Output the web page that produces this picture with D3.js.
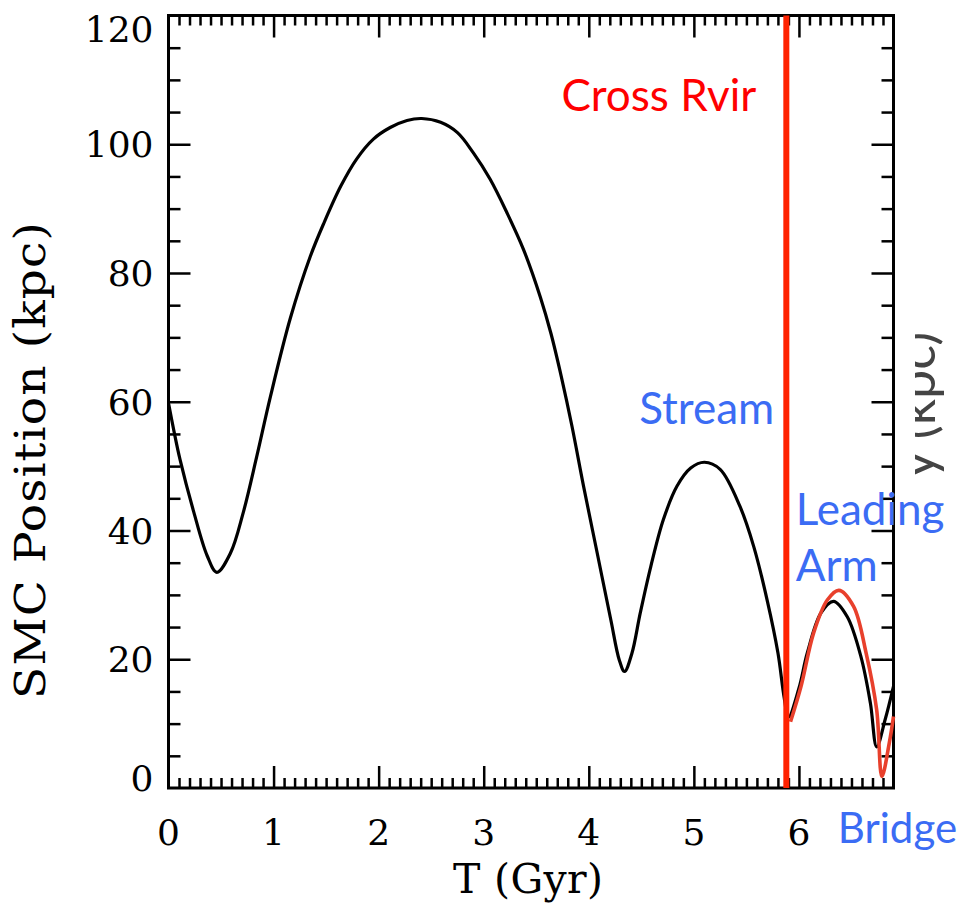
<!DOCTYPE html>
<html>
<head>
<meta charset="utf-8">
<script src="https://cdn.jsdelivr.net/npm/d3@7"></script>
<style>
  body { margin: 0; background: #fff; }
  svg { display: block; }
</style>
</head>
<body>
<div id="chart"></div>
<script>
// SMC orbit: distance vs time
var blackT = [0.00, 0.05, 0.11, 0.24, 0.37, 0.46, 0.59, 0.71, 0.84, 0.97, 1.16, 1.35, 1.48, 1.64, 1.79, 1.95,
              2.11, 2.27, 2.41, 2.59, 2.75, 2.90, 3.06, 3.22, 3.38, 3.54, 3.64, 3.74, 3.84, 3.95, 4.08,
              4.21, 4.29, 4.34, 4.41, 4.49, 4.59, 4.71, 4.84, 4.97, 5.10, 5.25, 5.44, 5.57, 5.70, 5.80,
              5.86, 5.90, 6.00, 6.08, 6.21, 6.33, 6.46, 6.59, 6.68, 6.74, 6.82, 6.90];
var blackR = [59.8, 55.6, 51.0, 42.9, 36.0, 33.5, 36.5, 42.7, 51.5, 60.8, 73.0, 82.6, 87.8, 93.5, 97.7, 100.8,
              102.6, 103.7, 104.0, 103.4, 101.8, 98.7, 94.6, 89.4, 83.6, 76.2, 70.6, 63.8, 56.2, 46.9, 36.5,
              26.1, 19.9, 18.1, 20.9, 27.2, 34.4, 41.7, 46.9, 49.7, 50.6, 49.5, 43.7, 37.5, 29.0, 21.0,
              14.0, 11.0, 15.5, 21.0, 27.2, 29.0, 26.6, 20.4, 13.2, 6.4, 10.6, 15.8];

var redT = [5.92, 6.02, 6.14, 6.27, 6.38, 6.52, 6.64, 6.74, 6.79, 6.86, 6.90];
var redR = [10.3, 15.8, 24.1, 29.2, 30.7, 28.2, 20.9, 12.1, 1.8, 7.0, 11.1];

var crossT = 5.88;

var xTicks = [0, 1, 2, 3, 4, 5, 6];
var yTicks = [0, 20, 40, 60, 80, 100, 120];

var labels = [
    { text: "Cross Rvir", t: 3.74, r: 105.2, color: "red" },
    { text: "Stream", t: 4.48, r: 56.6, color: "blue" },
    { text: "Leading", t: 5.97, r: 40.8, color: "blue" },
    { text: "Arm", t: 5.97, r: 32.2, color: "blue" },
    { text: "Bridge", t: 6.37, r: -8.6, color: "blue" }
];

var svgWidth = 962;
var svgHeight = 903;
var margin = { top: 15.5, left: 168.5, right: 68.5, bottom: 115 };
var width = svgWidth - margin.left - margin.right;
var height = svgHeight - margin.top - margin.bottom;

var svg = d3.select("#chart").append("svg")
    .attr("width", svgWidth)
    .attr("height", svgHeight);

var g = svg.append("g")
    .attr("transform", `translate(${margin.left}, ${margin.top})`);

var x = d3.scaleLinear().domain([0, 6.9]).range([0, width]);
var y = d3.scaleLinear().domain([0, 120]).range([height, 0]);

var serif = "'DejaVu Serif', serif";
var sans = "Lato, 'Open Sans', sans-serif";

// ticks (minor + major) on all four sides
var xMinor = d3.range(1, 69).map(d => d / 10).filter(d => Math.abs(d - Math.round(d)) > 1e-6);
var yMinor = d3.range(5, 120, 5).filter(d => d % 20 != 0);

function drawAxis(axis, scale, ticks, len, sel) {
    sel.call(axis(scale).tickValues(ticks).tickSize(len).tickFormat(""))
        .call(s => s.select(".domain").remove())
        .selectAll("line").attr("stroke", "#000").attr("stroke-width", 2.5);
}

var xMaj = xTicks.filter(d => d > 0);
var yMaj = yTicks.filter(d => d > 0 && d < 120);

drawAxis(d3.axisTop, x, xMinor, 10, g.append("g").attr("transform", `translate(0,${height})`));
drawAxis(d3.axisTop, x, xMaj, 22, g.append("g").attr("transform", `translate(0,${height})`));
drawAxis(d3.axisBottom, x, xMinor, 10, g.append("g"));
drawAxis(d3.axisBottom, x, xMaj, 22, g.append("g"));
drawAxis(d3.axisRight, y, yMinor, 12, g.append("g"));
drawAxis(d3.axisRight, y, yMaj, 22, g.append("g"));
drawAxis(d3.axisLeft, y, yMinor, 12, g.append("g").attr("transform", `translate(${width},0)`));
drawAxis(d3.axisLeft, y, yMaj, 22, g.append("g").attr("transform", `translate(${width},0)`));

// frame
g.append("rect")
    .attr("width", width)
    .attr("height", height)
    .attr("fill", "none")
    .attr("stroke", "#000")
    .attr("stroke-width", 3);

// tick labels
g.selectAll(".xl").data(xTicks).enter().append("text")
    .attr("x", d => x(d))
    .attr("y", height + 57)
    .attr("text-anchor", "middle")
    .style("font-family", serif)
    .style("font-size", "36px")
    .text(d => d);

g.selectAll(".yl").data(yTicks).enter().append("text")
    .attr("x", -15)
    .attr("y", d => Math.min(Math.max(y(d), 13), height - 10) + 13)
    .attr("text-anchor", "end")
    .style("font-family", serif)
    .style("font-size", "36px")
    .text(d => d);

// axis titles
svg.append("text")
    .attr("x", 528)
    .attr("y", 893)
    .attr("text-anchor", "middle")
    .attr("textLength", 150)
    .style("font-family", serif)
    .style("font-size", "41px")
    .text("T (Gyr)");

svg.append("text")
    .attr("transform", "translate(45,460) rotate(-90) scale(1.12,1)")
    .attr("text-anchor", "middle")
    .style("font-family", serif)
    .style("font-size", "42px")
    .style("letter-spacing", "1px")
    .text("SMC Position (kpc)");

// curves
var line = d3.line()
    .x(d => x(d[0]))
    .y(d => y(d[1]))
    .curve(d3.curveCatmullRom.alpha(0.5));

g.append("path")
    .datum(blackT.map((t, i) => [t, blackR[i]]))
    .attr("d", line)
    .attr("fill", "none")
    .attr("stroke", "#000")
    .attr("stroke-width", 3.2);

g.append("path")
    .datum(redT.map((t, i) => [t, redR[i]]))
    .attr("d", line)
    .attr("fill", "none")
    .attr("stroke", "#e8402c")
    .attr("stroke-width", 3.6);

g.append("line")
    .attr("x1", x(crossT)).attr("x2", x(crossT))
    .attr("y1", 0).attr("y2", height)
    .attr("stroke", "#ff2200")
    .attr("stroke-width", 6);

// cropped label from a neighbouring panel
svg.append("clipPath").attr("id", "cut")
    .append("rect").attr("x", 915).attr("y", 300).attr("width", 47).attr("height", 220);
svg.append("g")
    .attr("clip-path", "url(#cut)")
    .append("text")
    .attr("transform", "translate(935,405) rotate(-90)")
    .attr("text-anchor", "middle")
    .style("font-family", sans)
    .style("font-size", "52px")
    .style("fill", "#444")
    .text("y (kpc)");

// annotations
var colors = { red: "#ff0000", blue: "#3b6cf4" };
g.selectAll(".ann").data(labels).enter().append("text")
    .attr("x", d => x(d.t))
    .attr("y", d => y(d.r))
    .style("font-family", sans)
    .style("font-size", d => d.text == "Bridge" ? "42px" : "44px")
    .style("fill", d => colors[d.color])
    .text(d => d.text);
</script>
</body>
</html>
